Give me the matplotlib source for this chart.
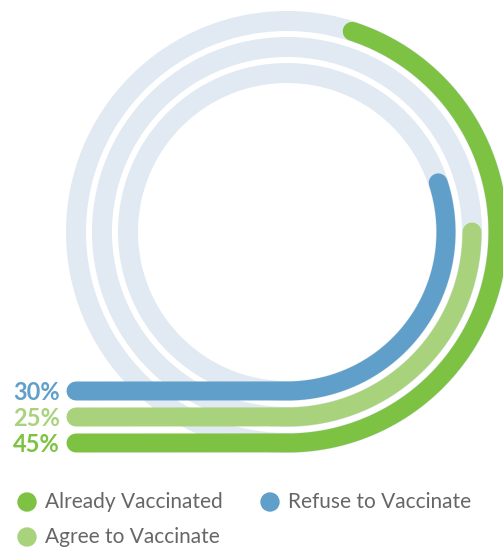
import numpy as np
import matplotlib.pyplot as plt
from matplotlib.patches import Circle

# data
categories = ["Already Vaccinated", "Agree to Vaccinate", "Refuse to Vaccinate"]
values = [45, 25, 30]
labels = ["45%", "25%", "30%"]
colors = ["#7dc242", "#a8d37c", "#609fca"]
track_color = "#e1e9f2"

W, H = 503, 547
fig = plt.figure(figsize=(W / 100, H / 100), dpi=100)
ax = fig.add_axes([0, 0, 1, 1])
ax.set_xlim(0, W)
ax.set_ylim(H, 0)
ax.set_aspect("equal")
ax.axis("off")

cx, cy = 287, 232
r_outer = 211
step = 26
lw_px = 19
lw = lw_px * 72 / 100
x_start = 76

plt.rcParams['font.family'] = ['Lato', 'DejaVu Sans']

for i, (val, lab, col) in enumerate(zip(values, labels, colors)):
    r = r_outer - i * step
    ax.add_patch(Circle((cx, cy), r, fill=False, ec=track_color, lw=20 * 72 / 100, zorder=1))
    # straight run from the left, then arc counterclockwise from the bottom
    sweep = np.deg2rad(val / 100 * 360)
    th = np.linspace(-np.pi / 2, -np.pi / 2 + sweep, 200)
    xs = np.concatenate([[x_start], cx + r * np.cos(th)])
    ys = np.concatenate([[cy + r], cy - r * np.sin(th)])
    ax.plot(xs, ys, color=col, lw=lw, solid_capstyle="round", solid_joinstyle="round", zorder=2)
    ax.text(60, cy + r + 1, lab, color=col, fontsize=17, fontweight="bold",
            ha="right", va="center")

# legend
leg_pos = [(27, 502), (27, 537), (270, 502)]
for (lx, ly), cat, col in zip(leg_pos, categories, colors):
    ax.add_patch(Circle((lx, ly), 9, color=col, zorder=3))
    ax.text(lx + 18, ly, cat, color="#666666", fontsize=15, ha="left", va="center")

fig.savefig("out.png", dpi=100)
